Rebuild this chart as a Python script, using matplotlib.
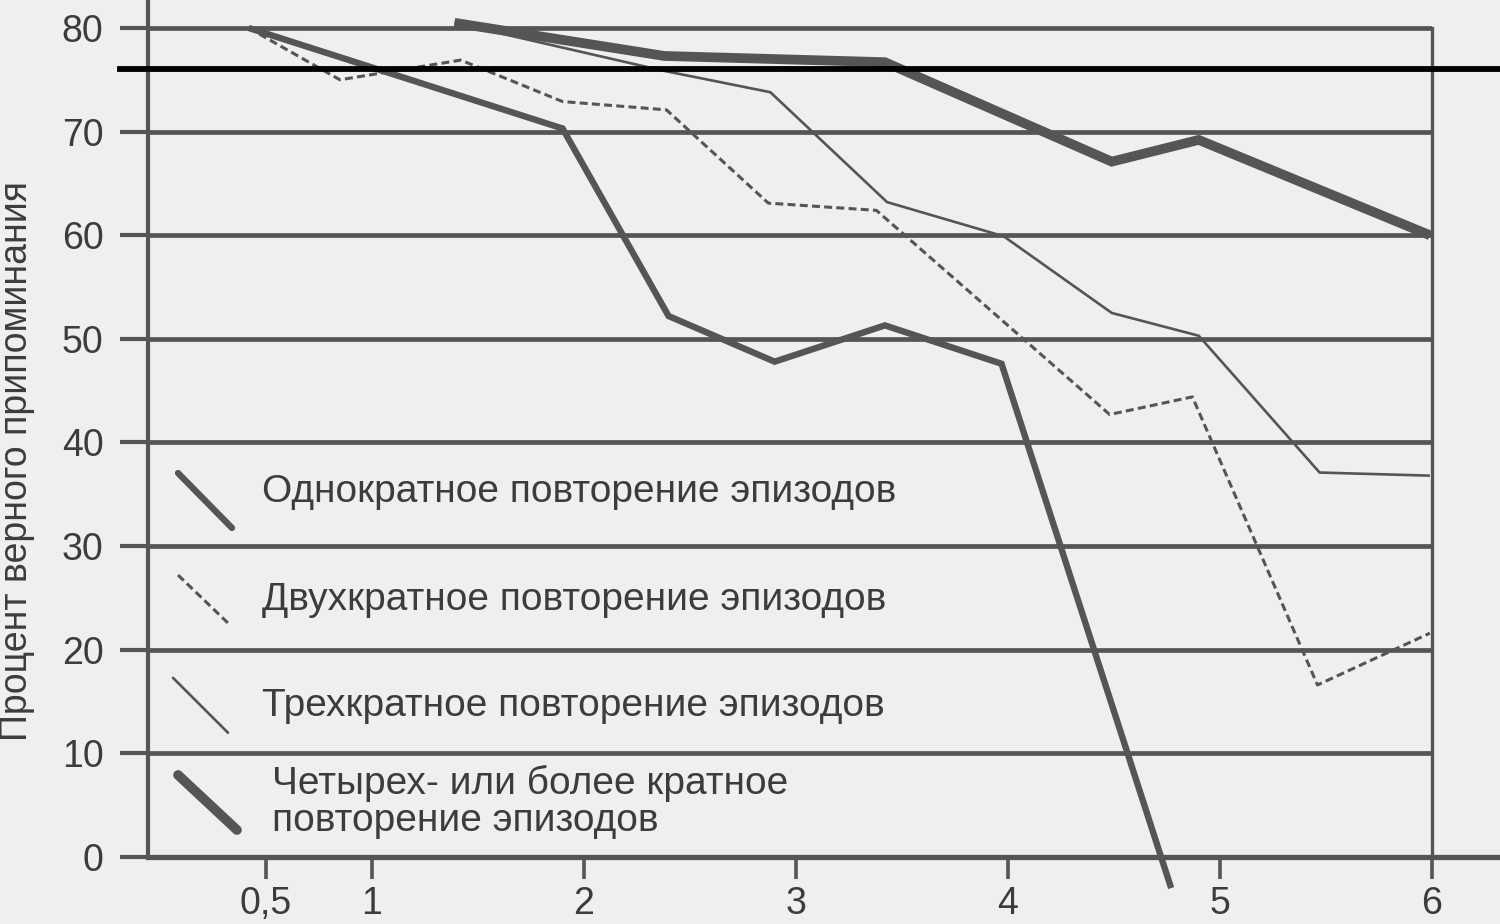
import matplotlib
matplotlib.use("Agg")
import matplotlib.pyplot as plt

plt.rcParams['font.family'] = ['Liberation Sans', 'DejaVu Sans']

# data
x_once = [0.42, 1.90, 2.40, 2.90, 3.42, 3.97, 4.77]
y_once = [80.0, 70.3, 52.2, 47.8, 51.3, 47.6, -3.0]

x_twice = [0.42, 0.85, 1.42, 1.90, 2.39, 2.87, 3.38, 4.48, 4.87, 5.46, 5.99]
y_twice = [80.0, 75.0, 76.9, 72.9, 72.1, 63.1, 62.4, 42.7, 44.4, 16.6, 21.6]

x_three = [1.39, 2.37, 2.88, 3.43, 3.98, 4.49, 4.90, 5.47, 5.99]
y_three = [80.5, 75.9, 73.8, 63.2, 59.9, 52.5, 50.3, 37.1, 36.8]

x_four = [1.39, 2.38, 3.42, 4.49, 4.90, 5.99]
y_four = [80.5, 77.3, 76.7, 67.1, 69.2, 60.0]

ref_level = 76
x_ticks = [0.5, 1, 2, 3, 4, 5, 6]
x_tick_labels = ['0,5', '1', '2', '3', '4', '5', '6']
y_ticks = [0, 10, 20, 30, 40, 50, 60, 70, 80]

labels = ['Однократное повторение эпизодов',
          'Двухкратное повторение эпизодов',
          'Трехкратное повторение эпизодов',
          'Четырех- или более кратное\nповторение эпизодов']

bg = '#efefef'
ink = '#555555'
txt = '#3c3c3c'

fig = plt.figure(figsize=(15, 9.24), dpi=100, facecolor=bg)
ax = fig.add_axes([148 / 1500, 1 - 857 / 924, 1284 / 1500, 857 / 924])
ax.set_facecolor(bg)

ax.set_xlim(-0.055, 6.0)
ax.set_ylim(0, 82.7)

# horizontal grid
for v in y_ticks[1:]:
    ax.axhline(v, color=ink, lw=3.4, zorder=1)
# bottom axis runs past the right edge
ax.axhline(0, xmin=0, xmax=1.06, color=ink, lw=3.8, clip_on=False, zorder=1)
ax.axhline(ref_level, xmin=-0.022, xmax=1.06, color='black', lw=4.2,
           clip_on=False, zorder=6)

# series: (x, y, linewidth, dashes)
series = [
    (x_once, y_once, 4.6, None),
    (x_twice, y_twice, 2.2, (2.6, 1.4)),
    (x_three, y_three, 1.9, None),
    (x_four, y_four, 7.0, None),
]
for xs, ys, lw, dash in series:
    line, = ax.plot(xs, ys, color=ink, lw=lw, clip_on=False, zorder=4,
                    solid_joinstyle='miter', solid_capstyle='butt')
    if dash:
        line.set_dashes(dash)

# legend drawn inside the axes with slanted handles
handle_pos = [((0.0234, 0.448), (0.0654, 0.384)),
              ((0.0234, 0.329), (0.0623, 0.273)),
              ((0.0195, 0.209), (0.0623, 0.145)),
              ((0.0234, 0.0957), (0.0693, 0.0315))]
text_pos = [(0.0888, 0.426), (0.0888, 0.300), (0.0888, 0.176), (0.0966, 0.064)]
for (p0, p1), (tx, ty), lab, (_, _, lw, dash) in zip(handle_pos, text_pos, labels, series):
    h, = ax.plot([p0[0], p1[0]], [p0[1], p1[1]], transform=ax.transAxes,
                 color=ink, lw=lw, solid_capstyle='round', zorder=5)
    if dash:
        h.set_dashes(dash)
    ax.text(tx, ty, lab, transform=ax.transAxes, fontsize=28, color=txt,
            va='center', ha='left', linespacing=1.05, zorder=5)

ax.spines['top'].set_visible(False)
ax.spines['bottom'].set_visible(False)
ax.spines['left'].set_color(ink)
ax.spines['left'].set_linewidth(3.0)
ax.spines['right'].set_color(ink)
ax.spines['right'].set_linewidth(2.4)
ax.spines['right'].set_bounds(0, 80)

ax.set_xticks(x_ticks)
ax.set_xticklabels(x_tick_labels)
ax.set_yticks(y_ticks)
ax.tick_params(axis='x', length=16, width=2.6, color=ink, labelsize=27,
               labelcolor=txt, pad=5)
ax.tick_params(axis='y', length=20, width=3.0, color=ink, labelsize=27,
               labelcolor=txt, pad=12)

ax.set_ylabel('Процент верного припоминания', fontsize=27, color=txt)
ax.yaxis.label.set_va('center')
ax.yaxis.set_label_coords(-0.102, 0.462)

fig.savefig('out.png', dpi=100, facecolor=bg)
